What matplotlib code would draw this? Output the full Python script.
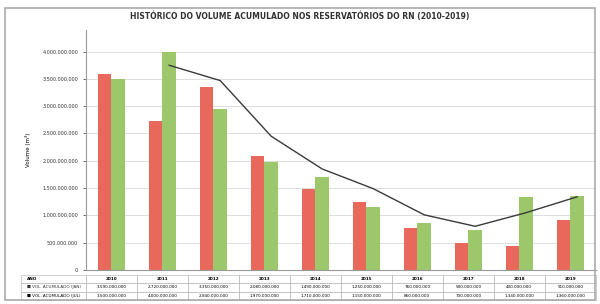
import matplotlib.pyplot as plt
from matplotlib.patches import Rectangle
from matplotlib.ticker import FuncFormatter

anos = ["2010", "2011", "2012", "2013", "2014", "2015", "2016", "2017", "2018", "2019"]
vol_jan = [3590, 2720, 3350, 2080, 1490, 1250, 760, 500, 430, 910]      # hm3
vol_jul = [3500, 4000, 2940, 1970, 1710, 1150, 860, 730, 1340, 1360]    # hm3
media_movel = [3750, 3470, 2450, 1850, 1490, 1010, 800, 1050, 1340]     # hm3, 2011-2019
yticks = [0, 500, 1000, 1500, 2000, 2500, 3000, 3500, 4000]

lbl_jan = "VOL. ACUMULADO (JAN)"
lbl_jul = "VOL. ACUMULADO (JUL)"

red = "#e8695c"
green = "#9cc86b"


def fmt(v):
    return f"{int(v * 1e6):,}".replace(",", ".")


fig = plt.figure(figsize=(6, 3.04), dpi=100)
fig.patches.append(Rectangle((5 / 600, 4 / 304), 590 / 600, 292 / 304,
                             transform=fig.transFigure, fill=False,
                             edgecolor="#aaaaaa", linewidth=1.2))
ax = fig.add_axes([0.143, 0.112, 0.85, 0.79])

x = list(range(len(anos)))
w = 0.27
ax.bar([i - w / 2 for i in x], vol_jan, width=w, color=red, label=lbl_jan, zorder=2)
ax.bar([i + w / 2 for i in x], vol_jul, width=w, color=green, label=lbl_jul, zorder=2)
ax.plot([i + w / 2 for i in x[1:]], media_movel, color="#3a3a3a", linewidth=1.0, zorder=3)

ax.set_xlim(-0.5, len(anos) - 0.5)
ax.set_ylim(0, 4400)
ax.set_yticks(yticks)
ax.yaxis.set_major_formatter(FuncFormatter(lambda v, p: fmt(v)))
ax.tick_params(axis="y", labelsize=3.5, length=2, width=0.5, colors="#333333")
ax.set_xticks([])
ax.grid(axis="y", color="#d8d8d8", linewidth=0.6, zorder=0)
for s in ["top", "right"]:
    ax.spines[s].set_visible(False)
ax.spines["left"].set_color("#999999")
ax.spines["bottom"].set_color("#999999")
ax.set_ylabel("Volume (m³)", fontsize=4, labelpad=8)

fig.text(0.5, 0.945, "HISTÓRICO DO VOLUME ACUMULADO NOS RESERVATÓRIOS DO RN (2010-2019)",
         ha="center", va="center", fontsize=5.5, fontweight="bold", color="#333333")

cells = [anos, [fmt(v) for v in vol_jan], [fmt(v) for v in vol_jul]]
tab = ax.table(cellText=cells, rowLabels=["ANO", "■ " + lbl_jan, "■ " + lbl_jul],
               cellLoc="center", rowLoc="left", bbox=[0, -0.125, 1, 0.104])
tab.auto_set_font_size(False)
tab.set_fontsize(3)
for (r, c), cell in tab.get_celld().items():
    cell.set_linewidth(0.4)
    cell.set_edgecolor("#aaaaaa")
    if c == -1:
        cell.set_width(0.13)
        if r == 1:
            cell.get_text().set_color("#333333")
    if r == 0:
        cell.get_text().set_fontweight("bold")

fig.savefig("out.png", dpi=100)
